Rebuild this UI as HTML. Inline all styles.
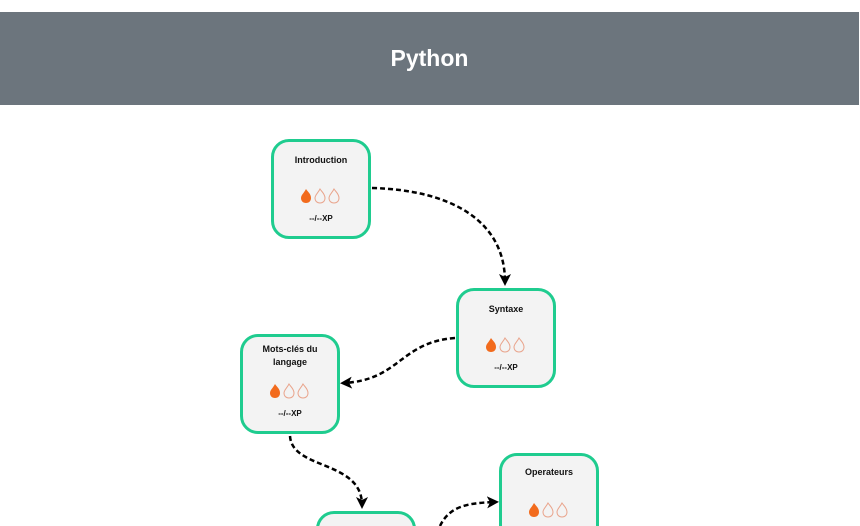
<!DOCTYPE html>
<html><head><meta charset="utf-8"><style>
html,body{margin:0;width:860px;height:526px;overflow:hidden}
body{background:#fff;font-family:"Liberation Sans",sans-serif;position:relative}
.hdr{position:absolute;left:0;top:12px;width:859px;height:93px;background:#6c757d;color:#fff;font-size:23px;font-weight:bold;text-align:center;line-height:92px}
.n{position:absolute;width:94px;height:94px;border:3px solid #1fcc8f;border-radius:18px;background:#f3f3f3;text-align:center;font-size:9px;font-weight:bold;color:#111}
.t{position:absolute;left:0;right:0;line-height:13px}
.xp{position:absolute;left:0;right:0;font-size:8px}
</style></head><body>
<div class="hdr">Python</div>
<div class="n" style="left:271px;top:139px"><div class="t" style="top:12px">Introduction</div><div class="xp" style="top:72px">--/--XP</div></div>
<div class="n" style="left:456px;top:288px"><div class="t" style="top:12px">Syntaxe</div><div class="xp" style="top:72px">--/--XP</div></div>
<div class="n" style="left:240px;top:334px"><div class="t" style="top:6px">Mots-clés du<br>langage</div><div class="xp" style="top:72px">--/--XP</div></div>
<div class="n" style="left:499px;top:453px"><div class="t" style="top:10px">Operateurs</div></div>
<div class="n" style="left:316px;top:511px"></div>
<svg width="860" height="526" style="position:absolute;left:0;top:0">
<defs><marker id="a" markerWidth="12" markerHeight="12" refX="8" refY="6" orient="auto" markerUnits="userSpaceOnUse"><path d="M0,0 L12,6 L0,12 L3,6z" fill="#000"/></marker>
<path id="fl" d="M5,0 C7,3 10,5 10,9 C10,12 8,14 5,14 C2,14 0,12 0,9 C0,6 3,4 5,0z"/></defs>
<g fill="none" stroke="#000" stroke-width="2.5" stroke-dasharray="5,3">
<path d="M372,188 C450,190 505,220 505,282" marker-end="url(#a)"/>
<path d="M455,338 C400,342 400,380 344,383" marker-end="url(#a)"/>
<path d="M290,436 C292,470 362,460 362,505" marker-end="url(#a)"/>
<path d="M440,526 C450,505 470,503 495,502" marker-end="url(#a)"/>
</g>
<g transform="translate(301,189)"><use href="#fl" fill="#f26b1d"/><use href="#fl" x="14" fill="none" stroke="#e9a48c"/><use href="#fl" x="28" fill="none" stroke="#e9a48c"/></g>
<g transform="translate(486,338)"><use href="#fl" fill="#f26b1d"/><use href="#fl" x="14" fill="none" stroke="#e9a48c"/><use href="#fl" x="28" fill="none" stroke="#e9a48c"/></g>
<g transform="translate(270,384)"><use href="#fl" fill="#f26b1d"/><use href="#fl" x="14" fill="none" stroke="#e9a48c"/><use href="#fl" x="28" fill="none" stroke="#e9a48c"/></g>
<g transform="translate(529,503)"><use href="#fl" fill="#f26b1d"/><use href="#fl" x="14" fill="none" stroke="#e9a48c"/><use href="#fl" x="28" fill="none" stroke="#e9a48c"/></g>
</svg>
</body></html>
